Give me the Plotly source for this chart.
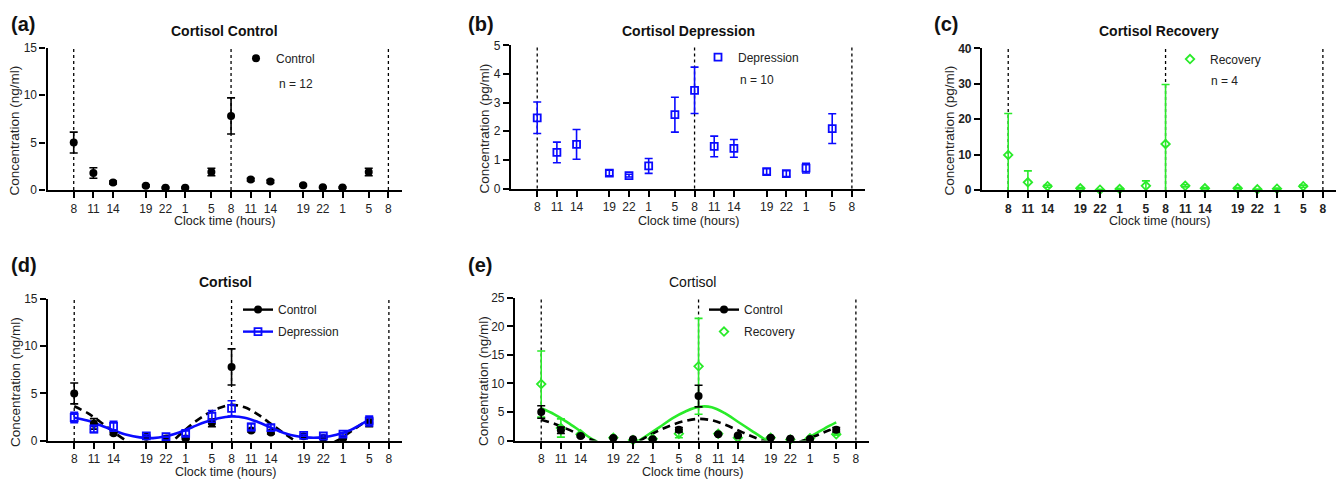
import plotly.graph_objects as go

# ---------------- data ----------------
tick_labels = ['8', '11', '14', '19', '22', '1', '5', '8', '11', '14', '19', '22', '1', '5', '8']
tick_hours = [0, 3, 6, 11, 14, 17, 21, 24, 27, 30, 35, 38, 41, 45, 48]
sample_hours = tick_hours[:-1]

ctrl_mean = [5.0, 1.8, 0.8, 0.45, 0.25, 0.25, 1.9, 7.8, 1.1, 0.9, 0.5, 0.3, 0.27, 1.9]
ctrl_err = [1.1, 0.55, 0.15, 0.1, 0.08, 0.08, 0.4, 1.9, 0.15, 0.15, 0.1, 0.08, 0.08, 0.4]

dep_mean = [2.47, 1.26, 1.54, 0.54, 0.45, 0.79, 2.58, 3.43, 1.47, 1.40, 0.59, 0.52, 0.71, 2.09]
dep_err = [0.55, 0.36, 0.52, 0.1, 0.05, 0.26, 0.61, 0.81, 0.36, 0.31, 0.1, 0.1, 0.17, 0.52]

rec_mean = [9.9, 2.2, 1.1, 0.5, 0.1, 0.3, 1.2, 13.0, 1.2, 0.5, 0.5, 0.2, 0.4, 1.1]
rec_sd = [11.7, 3.2, 0.3, 0.2, 0.1, 0.2, 1.4, 16.8, 0.3, 0.2, 0.2, 0.1, 0.2, 0.3]
rec_sem = [5.8, 1.6, 0.15, 0.1, 0.05, 0.1, 0.7, 8.4, 0.15, 0.1, 0.1, 0.05, 0.1, 0.15]

fit_hours = [0, 2, 4, 6, 8, 10, 12, 14, 16, 18, 20, 22, 24, 26, 28, 30, 32, 34, 36, 38, 40, 42, 44, 45]
ctrl_fit = [3.65, 2.95, 2.0, 0.95, 0.0, -0.7, -0.9, -0.6, 0.6, 1.8, 2.75, 3.45, 3.8, 3.55, 2.8, 1.8,
            0.8, -0.1, -0.7, -0.6, 0.0, 0.9, 1.85, 2.25]
dep_fit = [2.45, 2.15, 1.65, 1.12, 0.65, 0.38, 0.3, 0.5, 0.9, 1.45, 2.0, 2.4, 2.58, 2.45, 2.0, 1.4,
           0.85, 0.5, 0.35, 0.4, 0.65, 1.1, 1.85, 2.25]
rec_fit = [5.65, 4.6, 3.2, 1.65, 0.1, -1.0, -1.4, -0.6, 0.8, 2.3, 3.9, 5.1, 5.9, 5.85, 4.8, 3.3,
           1.8, 0.3, -0.9, -1.0, 0.0, 1.3, 2.6, 3.2]

ref_hours = [h for h, t in zip(tick_hours, tick_labels) if t == '8']

# ---------------- styling ----------------
# the page body has an 8px margin, so the figure is 8px smaller and every
# screen position below is given in window pixels and shifted by OFF
OFF = 8
W, H = 1344 - OFF, 490 - OFF
FONT = 'Liberation Sans, Arial, sans-serif'
BLACK = '#000000'
BLUE = '#0a0aff'
GREEN = '#2aeb2a'


def fx(x):
    return (x - OFF) / W


def fy(y):
    return 1 - (y - OFF) / H


panels = [
    dict(key='a', L=47.5, R=401.5, T=41.5, B=188.3, yr=[0, 15], dt=5, title='Cortisol Control', ty=24,
         tbold=True, ytitle='Concentration (ng/ml)', ytx=15, yty=127, xty=220, lab=(9, 17), bold_ticks=False),
    dict(key='b', L=511, R=865, T=39.3, B=186.7, yr=[0, 5], dt=1, title='Cortisol Depression', ty=24,
         tbold=True, ytitle='Concentration (pg/ml)', ytx=485, yty=125, xty=220, lab=(466, 17), bold_ticks=False),
    dict(key='c', L=982, R=1336, T=42.3, B=188.3, yr=[0, 40], dt=10, title='Cortisol Recovery', ty=24,
         tbold=True, ytitle='Concentration (pg/ml)', ytx=950, yty=127, xty=220, lab=(932, 17), bold_ticks=True),
    dict(key='d', L=48, R=402, T=300, B=446.7, yr=[0, 15], dt=5, title='Cortisol', ty=283,
         tbold=True, ytitle='Concentration (ng/ml)', ytx=15, yty=386, xty=479, lab=(9, 265), bold_ticks=False),
    dict(key='e', L=515, R=869, T=299.3, B=446.3, yr=[0, 25], dt=5, title='Cortisol', ty=283,
         tbold=False, ytitle='Concentration (ng/ml)', ytx=483, yty=385, xty=479, lab=(466, 265), bold_ticks=False),
]

fig = go.Figure()
layout = dict(width=W, height=H, autosize=False, margin=dict(l=0, r=0, t=0, b=0),
              paper_bgcolor='white', plot_bgcolor='white', font=dict(family=FONT, color='#222'))
annotations = []
shapes = []

for i, p in enumerate(panels):
    n = '' if i == 0 else str(i + 1)
    tickfont = dict(family=FONT, size=12, color='#222', weight='bold' if p['bold_ticks'] else 'normal')
    layout['xaxis' + n] = dict(domain=[fx(p['L']), fx(p['R'])], range=[-4, 50], anchor='y' + n,
                               tickvals=tick_hours, ticktext=tick_labels, ticks='outside', ticklen=6,
                               tickwidth=1.6, tickcolor=BLACK, showline=True, linewidth=2.2,
                               linecolor=BLACK, showgrid=False, zeroline=False, tickfont=tickfont,
                               fixedrange=True)
    ymax = p['yr'][1]
    layout['yaxis' + n] = dict(domain=[fy(p['B']), fy(p['T'])], range=p['yr'], anchor='x' + n,
                               tickvals=list(range(0, ymax + 1, p['dt'])), ticks='outside', ticklen=6,
                               tickwidth=1.6, tickcolor=BLACK, showline=True, linewidth=2.2,
                               linecolor=BLACK, showgrid=False, zeroline=False, tickfont=tickfont,
                               fixedrange=True)
    for h in ref_hours:
        shapes.append(dict(type='line', xref='x' + n, yref='y' + n + ' domain', x0=h, x1=h, y0=0, y1=1,
                           layer='below', line=dict(color=BLACK, width=1.3, dash='dot')))
    cx = (p['L'] + p['R']) / 2
    annotations.append(dict(text=p['title'], x=fx(cx), y=fy(p['ty']),
                            xref='paper', yref='paper', showarrow=False, xanchor='center', yanchor='middle',
                            font=dict(family=FONT, size=14, color='#111',
                                      weight='bold' if p['tbold'] else 'normal')))
    annotations.append(dict(text='(' + p['key'] + ')', x=fx(p['lab'][0]), y=fy(p['lab'][1]), xref='paper',
                            yref='paper', showarrow=False, xanchor='left', yanchor='middle',
                            font=dict(family=FONT, size=20, color='#111', weight='bold')))
    annotations.append(dict(text=p['ytitle'], x=fx(p['ytx']), y=fy(p['yty']), xref='paper', yref='paper',
                            showarrow=False, textangle=-90, xanchor='center', yanchor='middle',
                            font=dict(family=FONT, size=13.5, color='#222')))
    annotations.append(dict(text='Clock time (hours)', x=fx(cx), y=fy(p['xty']), xref='paper', yref='paper',
                            showarrow=False, xanchor='center', yanchor='middle',
                            font=dict(family=FONT, size=12.5, color='#222')))


def err_trace(xa, ya, y, err, color):
    return go.Scatter(x=sample_hours, y=y, xaxis=xa, yaxis=ya, mode='markers',
                      marker=dict(size=2, opacity=0, color=color), showlegend=False, hoverinfo='skip',
                      cliponaxis=True,
                      error_y=dict(type='data', array=err, visible=True, color=color, thickness=1.6, width=4))


CI = 8
SQ = 7
DM = 6.5


def pt_trace(xa, ya, y, name, symbol, color, legend, show, size=CI, lw=1.8):
    if symbol == 'circle':
        marker = dict(symbol='circle', size=size, color=color, line=dict(width=0))
    else:
        marker = dict(symbol=symbol, size=size, color=color, line=dict(width=lw, color=color))
    return go.Scatter(x=sample_hours, y=y, xaxis=xa, yaxis=ya, mode='markers', marker=marker, name=name,
                      showlegend=show, legend=legend, cliponaxis=False)


def fit_trace(xa, ya, y, color, dash):
    return go.Scatter(x=fit_hours, y=y, xaxis=xa, yaxis=ya, mode='lines', showlegend=False,
                      line=dict(color=color, width=2.6, dash=dash, shape='spline', smoothing=1.0),
                      hoverinfo='skip')


def legend_entry(xa, ya, name, symbol, color, legend, mode='lines+markers'):
    if symbol == 'circle':
        marker = dict(symbol='circle', size=CI, color=color)
    else:
        marker = dict(symbol=symbol, size=SQ if 'square' in symbol else DM, color=color,
                      line=dict(width=1.8, color=color))
    return go.Scatter(x=[None], y=[None], xaxis=xa, yaxis=ya, mode=mode, name=name, legendgroup=name,
                      line=dict(color=color, width=2.4), marker=marker, legend=legend, showlegend=True)


# (a)
fig.add_trace(err_trace('x', 'y', ctrl_mean, ctrl_err, BLACK))
fig.add_trace(pt_trace('x', 'y', ctrl_mean, 'Control', 'circle', BLACK, 'legend', True))
# (b)
fig.add_trace(err_trace('x2', 'y2', dep_mean, dep_err, BLUE))
fig.add_trace(pt_trace('x2', 'y2', dep_mean, 'Depression', 'square-open', BLUE, 'legend2', True, size=SQ))
# (c)
fig.add_trace(err_trace('x3', 'y3', rec_mean, rec_sd, GREEN))
fig.add_trace(pt_trace('x3', 'y3', rec_mean, 'Recovery', 'diamond-open', GREEN, 'legend3', True, size=DM))
# (d)
fig.add_trace(fit_trace('x4', 'y4', ctrl_fit, BLACK, '8px,5px'))
fig.add_trace(fit_trace('x4', 'y4', dep_fit, BLUE, 'solid'))
fig.add_trace(err_trace('x4', 'y4', ctrl_mean, ctrl_err, BLACK))
fig.add_trace(pt_trace('x4', 'y4', ctrl_mean, 'Control', 'circle', BLACK, 'legend4', False))
fig.add_trace(err_trace('x4', 'y4', dep_mean, dep_err, BLUE))
fig.add_trace(pt_trace('x4', 'y4', dep_mean, 'Depression', 'square-open', BLUE, 'legend4', False, size=SQ))
fig.add_trace(legend_entry('x4', 'y4', 'Control', 'circle', BLACK, 'legend4'))
fig.add_trace(legend_entry('x4', 'y4', 'Depression', 'square-open', BLUE, 'legend4'))
# (e)
fig.add_trace(fit_trace('x5', 'y5', rec_fit, GREEN, 'solid'))
fig.add_trace(fit_trace('x5', 'y5', ctrl_fit, BLACK, '8px,5px'))
fig.add_trace(err_trace('x5', 'y5', rec_mean, rec_sem, GREEN))
fig.add_trace(pt_trace('x5', 'y5', rec_mean, 'Recovery', 'diamond-open', GREEN, 'legend5', False, size=DM))
fig.add_trace(err_trace('x5', 'y5', ctrl_mean, ctrl_err, BLACK))
fig.add_trace(pt_trace('x5', 'y5', ctrl_mean, 'Control', 'circle', BLACK, 'legend5', False))
fig.add_trace(legend_entry('x5', 'y5', 'Control', 'circle', BLACK, 'legend5'))
fig.add_trace(legend_entry('x5', 'y5', 'Recovery', 'diamond-open', GREEN, 'legend5', mode='markers'))


def legend_at(mx, my):
    return dict(x=fx(mx - 19), y=fy(my - 14.5), xanchor='left', yanchor='top', bgcolor='rgba(0,0,0,0)',
                borderwidth=0, font=dict(family=FONT, size=12, color='#222'), itemclick=False,
                traceorder='grouped', tracegroupgap=3, itemwidth=30)


layout['legend'] = legend_at(255, 52)
layout['legend2'] = legend_at(717, 51)
layout['legend3'] = legend_at(1189, 53)
layout['legend4'] = legend_at(257, 311)
layout['legend5'] = legend_at(723, 311)

for txt, x, y in [('n = 12', 277, 79), ('n = 10', 738, 75), ('n = 4', 1209, 76)]:
    annotations.append(dict(text=txt, x=fx(x), y=fy(y), xref='paper', yref='paper', showarrow=False,
                            xanchor='left', yanchor='middle', font=dict(family=FONT, size=12, color='#222')))

layout['annotations'] = annotations
layout['shapes'] = shapes
fig.update_layout(**layout)

fig.write_html('out.html')
